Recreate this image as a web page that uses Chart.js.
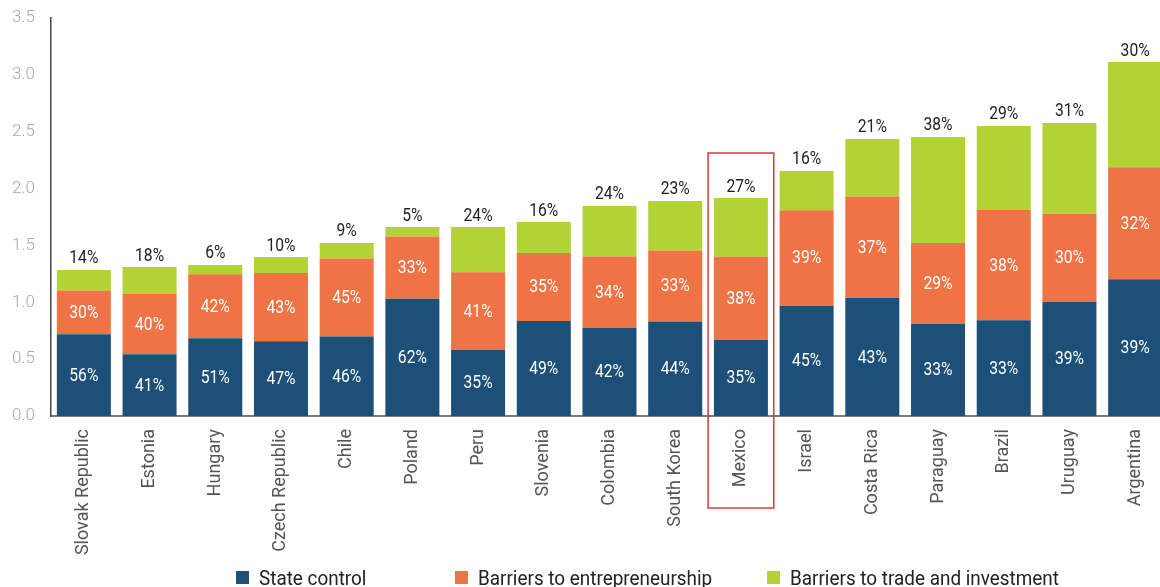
<!DOCTYPE html>
<html lang="en">
<head>
  <meta charset="UTF-8">
  <title>Regulation components by country</title>
  <script src="https://cdn.jsdelivr.net/npm/chart.js"></script>
  <style>
    html, body { margin: 0; padding: 0; background: #fff; overflow: hidden; }
    #grafico { display: block; }
  </style>
</head>
<body>
  <canvas id="grafico" width="1175" height="587"></canvas>

  <script>
    // countries, ordered by total score
    const paises = ['Slovak Republic', 'Estonia', 'Hungary', 'Czech Republic', 'Chile', 'Poland', 'Peru',
      'Slovenia', 'Colombia', 'South Korea', 'Mexico', 'Israel', 'Costa Rica', 'Paraguay', 'Brazil',
      'Uruguay', 'Argentina'];

    // total score per country
    const totales = [1.284, 1.31, 1.328, 1.398, 1.522, 1.662, 1.662, 1.706, 1.847, 1.891, 1.917,
      2.155, 2.436, 2.454, 2.551, 2.577, 3.113];

    // share of the total for each component (%)
    const pctEstado = [56, 41, 51, 47, 46, 62, 35, 49, 42, 44, 35, 45, 43, 33, 33, 39, 39];
    const pctEmprendimiento = [30, 40, 42, 43, 45, 33, 41, 35, 34, 33, 38, 39, 37, 29, 38, 30, 32];
    const pctComercio = [14, 18, 6, 10, 9, 5, 24, 16, 24, 23, 27, 16, 21, 38, 29, 31, 30];

    const yTicks = [0, 0.5, 1, 1.5, 2, 2.5, 3, 3.5];
    const destacado = 'Mexico';

    const colores = ['#1d5079', '#f07346', '#b3d235'];
    const nombres = ['State control', 'Barriers to entrepreneurship', 'Barriers to trade and investment'];

    // segment value = total * share (shares normalised so the stack reaches the total)
    function segmento(pcts) {
      return pcts.map((p, i) => {
        const suma = pctEstado[i] + pctEmprendimiento[i] + pctComercio[i];
        return totales[i] * p / suma;
      });
    }

    const datasets = [pctEstado, pctEmprendimiento, pctComercio].map((pcts, k) => ({
      label: nombres[k],
      data: segmento(pcts),
      shares: pcts,
      backgroundColor: colores[k],
      borderWidth: 0,
      categoryPercentage: 1,
      barPercentage: 0.822
    }));

    // text squeezed horizontally, the labels use a narrow face
    function textoEstrecho(ctx, txt, x, y, escala) {
      ctx.save();
      ctx.translate(x, y);
      ctx.scale(escala, 1);
      ctx.fillText(txt, 0, 0);
      ctx.restore();
    }

    const etiquetas = {
      id: 'etiquetas',
      afterDatasetsDraw(chart) {
        const ctx = chart.ctx;
        ctx.save();
        ctx.font = '18px Roboto';
        ctx.textAlign = 'center';
        ctx.textBaseline = 'middle';
        chart.data.datasets.forEach((ds, di) => {
          chart.getDatasetMeta(di).data.forEach((bar, i) => {
            const txt = ds.shares[i] + '%';
            if (di < 2) {
              ctx.fillStyle = '#ffffff';
              textoEstrecho(ctx, txt, bar.x, (bar.y + bar.base) / 2 + 1, 0.87);
            } else {
              ctx.fillStyle = '#222222';
              textoEstrecho(ctx, txt, bar.x, bar.y - 11, 0.87);
            }
          });
        });
        ctx.restore();
      }
    };

    // red frame around the highlighted country
    const marco = {
      id: 'marco',
      afterDraw(chart) {
        const i = paises.indexOf(destacado);
        const xs = chart.scales.x, ys = chart.scales.y;
        const ancho = (chart.chartArea.right - chart.chartArea.left) / paises.length;
        const cx = xs.getPixelForValue(i);
        const top = ys.getPixelForValue(totales[i]) - 45;
        const bottom = chart.chartArea.bottom + 92;
        const ctx = chart.ctx;
        ctx.save();
        ctx.strokeStyle = '#e0363c';
        ctx.lineWidth = 1.5;
        ctx.strokeRect(cx - ancho / 2, top, ancho, bottom - top);
        ctx.restore();
      }
    };

    // legend row at the bottom
    const leyenda = {
      id: 'leyenda',
      afterDraw(chart) {
        const ctx = chart.ctx;
        const xs = [236, 455, 767];
        ctx.save();
        ctx.font = '21px Roboto';
        ctx.textAlign = 'left';
        ctx.textBaseline = 'alphabetic';
        nombres.forEach((n, k) => {
          ctx.fillStyle = colores[k];
          ctx.fillRect(xs[k], 571, 13, 13);
          ctx.fillStyle = '#222222';
          textoEstrecho(ctx, n, xs[k] + 23, 585, 0.9);
        });
        ctx.restore();
      }
    };

    const ctx = document.getElementById('grafico').getContext('2d');
    new Chart(ctx, {
      type: 'bar',
      data: { labels: paises, datasets },
      plugins: [etiquetas, marco, leyenda],
      options: {
        responsive: false,
        animation: false,
        layout: { padding: { top: 18, right: 7, bottom: 0, left: 0 } },
        plugins: {
          legend: { display: false },
          tooltip: { enabled: false }
        },
        scales: {
          x: {
            stacked: true,
            grid: { display: false, drawTicks: false },
            border: { display: true, color: '#7a7a7a', width: 2 },
            ticks: {
              color: '#555555',
              font: { family: 'Roboto', size: 18 },
              minRotation: 90,
              maxRotation: 90,
              padding: 13,
              autoSkip: false
            },
            afterFit(scale) { scale.height = 171; }
          },
          y: {
            stacked: true,
            min: 0,
            max: 3.5,
            afterBuildTicks(scale) { scale.ticks = yTicks.map(v => ({ value: v })); },
            grid: { display: false, drawTicks: false },
            border: { display: true, color: '#444444', width: 1.5 },
            ticks: {
              color: '#a8a8a8',
              font: { family: 'Roboto', size: 17, weight: 300 },
              padding: 16,
              callback: v => v.toFixed(1)
            },
            afterFit(scale) {
              scale.width = 51;
              scale.paddingTop = 0;
              scale.paddingBottom = 0;
            }
          }
        }
      }
    });
  </script>
</body>
</html>
